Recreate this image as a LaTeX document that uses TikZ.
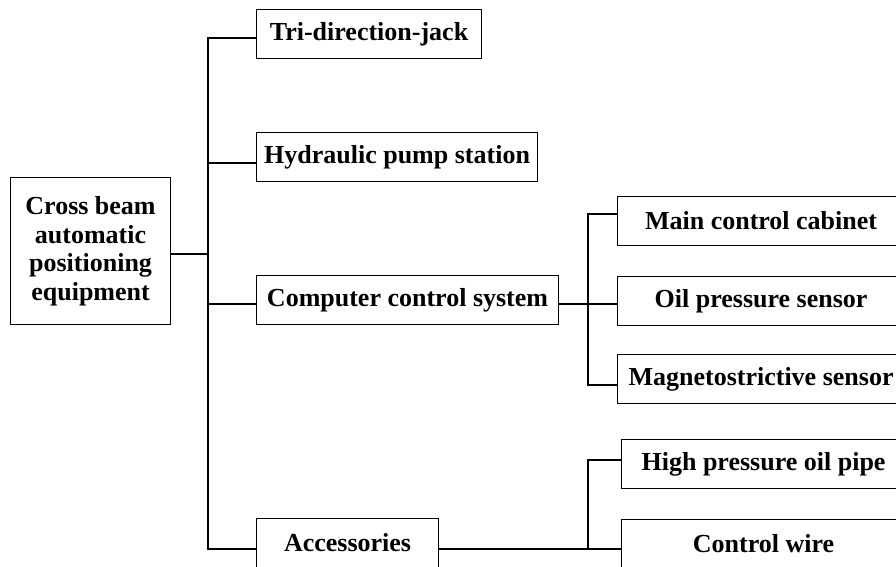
\documentclass[tikz,border=0pt]{standalone}
\usepackage{fontspec}
\setmainfont{Liberation Serif}
\begin{document}
\begin{tikzpicture}[x=1pt,y=-1pt,
  box/.style={draw, line width=1.1pt, minimum height=49pt, inner sep=0pt,
    anchor=north west, align=center,
    font=\bfseries\fontsize{26}{28.5}\selectfont},
  link/.style={line width=1.1pt}]
\useasboundingbox (0,0) rectangle (896,566);

% boxes
\node[box, minimum width=160pt, minimum height=147pt] (root) at (10,177)
  {Cross beam\\automatic\\positioning\\equipment};
\node[box, minimum width=225pt] (tri)  at (256,9)   {Tri-direction-jack};
\node[box, minimum width=281pt] (hyd)  at (256,132) {Hydraulic pump station};
\node[box, minimum width=302pt] (comp) at (256,275) {Computer control system};
\node[box, minimum width=182pt] (acc)  at (256,518) {Accessories};
\node[box, minimum width=287pt] (main) at (617,196) {Main control cabinet};
\node[box, minimum width=287pt] (oil)  at (617,276) {Oil pressure sensor};
\node[box, minimum width=287pt] (mag)  at (617,354) {Magnetostrictive sensor};
\node[box, minimum width=284pt] (hp)   at (621,439) {High pressure oil pipe};
\node[box, minimum width=284pt] (cw)   at (621,519) {Control wire};

% junction points of the trunk lines
\coordinate (r0) at (208,254);
\coordinate (t1) at (208,38);
\coordinate (t2) at (208,163);
\coordinate (t3) at (208,304);
\coordinate (t4) at (208,549);
\coordinate (c0) at (588,304);
\coordinate (c1) at (588,214);
\coordinate (c3) at (588,385);
\coordinate (a1) at (588,460);
\coordinate (a0) at (588,549);

% main trunk
\draw[link] (root.east |- r0) -- (r0);
\draw[link] (tri.west |- t1) -- (t1) -- (t4) -- (acc.west |- t4);
\draw[link] (t2) -- (hyd.west |- t2);
\draw[link] (t3) -- (comp.west |- t3);

% computer control system branch
\draw[link] (comp.east |- c0) -- (oil.west |- c0);
\draw[link] (main.west |- c1) -- (c1) -- (c3) -- (mag.west |- c3);

% accessories branch
\draw[link] (acc.east |- a0) -- (cw.west |- a0);
\draw[link] (a0) -- (a1) -- (hp.west |- a1);
\end{tikzpicture}
\end{document}
